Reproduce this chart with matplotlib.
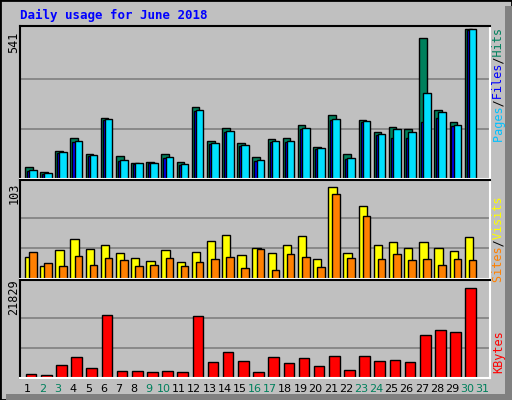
import matplotlib
matplotlib.use("Agg")
import matplotlib.pyplot as plt
from matplotlib.patches import Rectangle

days = list(range(1, 32))
hits  = [45,26,100,148,89,221,82,56,63,89,60,258,137,184,130,78,144,148,195,115,230,89,213,170,188,180,510,250,207,541,0]
files = [30,19,94,134,83,214,64,55,57,75,51,247,127,170,119,64,134,134,181,108,214,71,206,158,148,148,207,221,192,538,0]
pages = [32,20,96,137,85,217,67,56,59,78,53,250,130,173,122,67,137,137,184,111,217,74,209,162,180,169,309,243,195,541,0]
sites  = [25,15,32,45,34,38,29,24,20,32,19,30,43,49,27,35,29,38,48,22,103,29,82,38,41,35,41,35,31,47,0]
visits = [30,18,15,26,16,24,21,15,16,24,15,19,22,25,12,34,10,28,25,13,95,24,71,22,28,21,22,16,22,21,0]
kbytes = [1036,797,3187,5099,2470,15376,1753,1753,1514,1753,1514,15137,3904,6294,4143,1514,5099,3665,4860,2948,5338,1992,5338,4143,4382,3904,10357,11791,11313,21829,0]
weekend = {2,3,9,10,16,17,23,24,30,31}

W, H = 512, 400
fig = plt.figure(figsize=(W/100, H/100), dpi=100, facecolor="#C0C0C0")
fig.patches.append(Rectangle((0, 0), 1, 1, transform=fig.transFigure, fill=False, ec="black", lw=2))
fig.patches.append(Rectangle((505/W, 0), 7/W, 1-6/H, transform=fig.transFigure, fc="#808080", ec="none"))
fig.patches.append(Rectangle((6/W, 0), 1-6/W, 6/H, transform=fig.transFigure, fc="#808080", ec="none"))

mono = "DejaVu Sans Mono"
def axes(top, bottom, left=20, right=490):
    ax = fig.add_axes([left/W, 1-bottom/H, (right-left)/W, (bottom-top)/H])
    ax.set_facecolor("#C0C0C0")
    ax.set_xlim(0, 31)
    ax.set_xticks([]); ax.set_yticks([])
    ax.spines["left"].set_color("black"); ax.spines["top"].set_color("black")
    ax.spines["right"].set_color("white"); ax.spines["bottom"].set_color("white")
    for s in ax.spines.values(): s.set_linewidth(1.5)
    return ax

x0 = [d-1 for d in days]
kw = dict(align="edge", edgecolor="black", linewidth=1)

ax1 = axes(26, 179)
ax1.set_ylim(0, 541/0.98)
for g in (1, 2): ax1.axhline(541*g/3, color="#808080", lw=1.2, zorder=0)
ax1.bar([x+0.33 for x in x0], hits, width=0.5, color="#00805C", **kw)
ax1.bar([x+0.46 for x in x0], files, width=0.5, color="#0000FF", **kw)
ax1.bar([x+0.6 for x in x0], pages, width=0.5, color="#00E0FF", **kw)

ax2 = axes(180, 279)
ax2.set_ylim(0, 103/0.93)
for g in (1, 2): ax2.axhline(103*g/3, color="#808080", lw=1.2, zorder=0)
ax2.bar([x+0.33 for x in x0], sites, width=0.55, color="#FFFF00", **kw)
ax2.bar([x+0.6 for x in x0], visits, width=0.5, color="#FF8000", **kw)

ax3 = axes(280, 378)
ax3.set_ylim(0, 21829/0.915)
for g in (1, 2): ax3.axhline(21829*g/3, color="#808080", lw=1.2, zorder=0)
ax3.bar([x+0.38 for x in x0], kbytes, width=0.7, color="#FF0000", **kw)

fs = 8.5
fig.text(20/W, 1-15/H, "Daily usage for June 2018", color="#0000FF", fontfamily=mono,
         fontweight="bold", fontsize=9, va="center")
for y, t in ((42, "541"), (193, "103"), (297, "21829")):
    fig.text(14/W, 1-y/H, t, rotation=90, ha="center", va="center", fontfamily=mono, fontsize=fs)

def rtext(parts, ytop):
    full = "".join(t for t, c in parts)
    pos = 0
    for t, c in parts:
        s = " "*pos + t + " "*(len(full)-pos-len(t))
        fig.text(499/W, 1-ytop/H, s, rotation=90, ha="center", va="top", color=c,
                 fontfamily=mono, fontsize=fs)
        pos += len(t)
rtext([("Pages", "#00C0FF"), ("/", "black"), ("Files", "#0000FF"), ("/", "black"), ("Hits", "#00805C")], 28)
rtext([("Sites", "#FF8000"), ("/", "black"), ("Visits", "#FFFF00")], 196)
rtext([("KBytes", "#FF0000")], 330)

for d in days:
    fig.text((20+(d-0.5)*470/31)/W, 1-389/H, str(d), ha="center", va="center",
             color="#00805C" if d in weekend else "black", fontfamily="DejaVu Sans", fontsize=8)

fig.savefig("out.png", dpi=100, facecolor=fig.get_facecolor())
